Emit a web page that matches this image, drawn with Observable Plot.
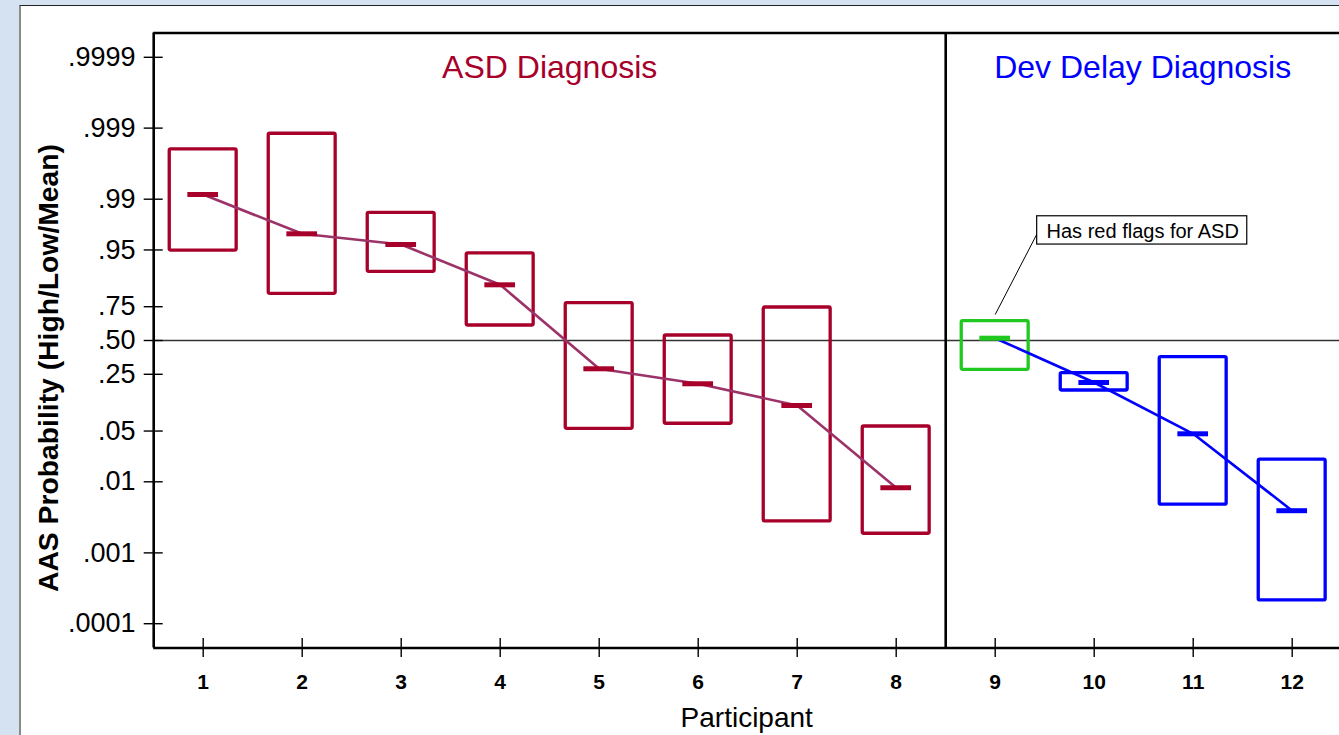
<!DOCTYPE html>
<html>
<head>
<meta charset="utf-8">
<script src="https://cdn.jsdelivr.net/npm/d3@7"></script>
<script src="https://cdn.jsdelivr.net/npm/@observablehq/plot@0.6"></script>
<style>
  html, body { margin: 0; padding: 0; background: #d4e2f1; width: 1339px; height: 735px; overflow: hidden; font-family: "Liberation Sans", Arial, sans-serif; }
  #panel { position: absolute; left: 19px; top: 5px; right: 0; bottom: 0; background: #fff; border-top: 1.5px solid #222; border-left: 2px solid #8a8a8a; }
  #chart { position: absolute; left: 0; top: 0; }
</style>
</head>
<body>
<div id="panel"></div>
<div id="chart"></div>
<script>
// ---- data (probabilities) ----
const participants = [1, 2, 3, 4, 5, 6, 7, 8, 9, 10, 11, 12];
const diagnosis = ["ASD","ASD","ASD","ASD","ASD","ASD","ASD","ASD","Dev Delay","Dev Delay","Dev Delay","Dev Delay"];
const redFlags = [false,false,false,false,false,false,false,false,true,false,false,false];
const highProb = [0.998, 0.9988, 0.9845, 0.9446, 0.771, 0.5406, 0.7451, 0.0575, 0.652, 0.2568, 0.3675, 0.0203];
const lowProb  = [0.9491, 0.8202, 0.9032, 0.6196, 0.0536, 0.0625, 0.00278, 0.00186, 0.2783, 0.1644, 0.00478, 0.000213];
const meanProb = [0.9914, 0.9698, 0.9578, 0.8595, 0.285, 0.1967, 0.1078, 0.00826, 0.5187, 0.2034, 0.0459, 0.00393];
const yTickValues = [0.9999, 0.999, 0.99, 0.95, 0.75, 0.5, 0.25, 0.05, 0.01, 0.001, 0.0001];
const yTickLabels = [".9999", ".999", ".99", ".95", ".75", ".50", ".25", ".05", ".01", ".001", ".0001"];
const groupTitles = ["ASD Diagnosis", "Dev Delay Diagnosis"];
const annotationText = "Has red flags for ASD";

// ---- styles ----
const ASD_COLOR = "#a6002b";
const ASD_LINE = "#9c3368";
const DEV_COLOR = "#0000ff";
const FLAG_COLOR = "#20c820";

const logit = p => Math.log(p / (1 - p));
const rows = participants.map((p, i) => ({
  p, group: diagnosis[i], flag: redFlags[i],
  hi: logit(highProb[i]), lo: logit(lowProb[i]), mean: logit(meanProb[i])
}));
const boxColor = d => d.flag ? FLAG_COLOR : (d.group === "ASD" ? ASD_COLOR : DEV_COLOR);
const tickLabelMap = new Map(yTickValues.map((v, i) => [logit(v), yTickLabels[i]]));
const yTicks = yTickValues.map(logit);

const plot = Plot.plot({
  width: 1339,
  height: 735,
  marginLeft: 153,
  marginTop: 32.5,
  marginBottom: 87.5,
  marginRight: 0,
  style: { background: "transparent", fontFamily: "'Liberation Sans', Arial, sans-serif", color: "#000", overflow: "visible" },
  x: { domain: [0.5, 12.5], range: [153.2, 1341.2], label: null },
  y: { domain: [-10, 10], range: [647.5, 32.5], label: null },
  marks: [
    // 0.5 reference line
    Plot.ruleY([0], { x1: 0.5, x2: 12.5, stroke: "#333", strokeWidth: 1.5 }),
    // boxes
    Plot.rect(rows, { x1: d => d.p - 0.338, x2: d => d.p + 0.338, y1: "lo", y2: "hi", fill: "none", stroke: boxColor, strokeWidth: 3.3, rx: 1.5 }),
    // connecting lines
    Plot.line(rows.filter(d => d.group === "ASD"), { x: "p", y: "mean", stroke: ASD_LINE, strokeWidth: 2.6 }),
    Plot.line(rows.filter(d => d.group !== "ASD"), { x: "p", y: "mean", stroke: DEV_COLOR, strokeWidth: 2.6 }),
    // mean ticks
    Plot.ruleY(rows, { y: "mean", x1: d => d.p - 0.155, x2: d => d.p + 0.155, stroke: boxColor, strokeWidth: 5 }),
    // frame
    Plot.ruleX([0.5], { y1: -10, y2: 10, stroke: "#000", strokeWidth: 2.6 }),
    Plot.ruleX([8.5], { y1: -10, y2: 10, stroke: "#000", strokeWidth: 2.6 }),
    Plot.ruleY([10, -10], { x1: 0.5, x2: 12.5, stroke: "#000", strokeWidth: 2.6 }),
    // tick marks crossing the axes
    Plot.ruleY(yTicks, { x1: 0.404, x2: 0.596, stroke: "#000", strokeWidth: 1.4 }),
    Plot.ruleX(participants, { y1: -10.309, y2: -9.691, stroke: "#000", strokeWidth: 1.4 }),
    // axes labels
    Plot.axisY({ ticks: yTicks, tickSize: 0, tickPadding: 18, tickFormat: d => tickLabelMap.get(d), fontSize: 27, label: null }),
    Plot.axisX({ ticks: participants, tickSize: 0, tickPadding: 26, tickFormat: d => String(d), fontSize: 21, fontWeight: "bold", label: null }),
    // group titles
    Plot.text([groupTitles[0]], { x: 4.5, y: 8.87, fill: ASD_COLOR, fontSize: 32 }),
    Plot.text([groupTitles[1]], { x: 10.49, y: 8.87, fill: DEV_COLOR, fontSize: 32 }),
    // annotation
    Plot.link([0], { x1: 9.424, y1: 3.478, x2: 9.0, y2: 0.845, stroke: "#000", strokeWidth: 1 }),
    Plot.rect([0], { x1: 9.424, x2: 11.546, y1: 3.12, y2: 4.04, fill: "#fff", stroke: "#000", strokeWidth: 1.2 }),
    Plot.text([annotationText], { x: 10.49, y: 3.547, fontSize: 20, fill: "#000" }),
    // axis titles
    Plot.text(["Participant"], { x: 6.49, y: -12.28, fontSize: 28, fill: "#000" }),
    Plot.text(["AAS Probability (High/Low/Mean)"], { x: -0.563, y: -0.894, rotate: -90, fontSize: 28.3, fontWeight: "bold", fill: "#000" })
  ]
});
document.getElementById("chart").appendChild(plot);
</script>
</body>
</html>
